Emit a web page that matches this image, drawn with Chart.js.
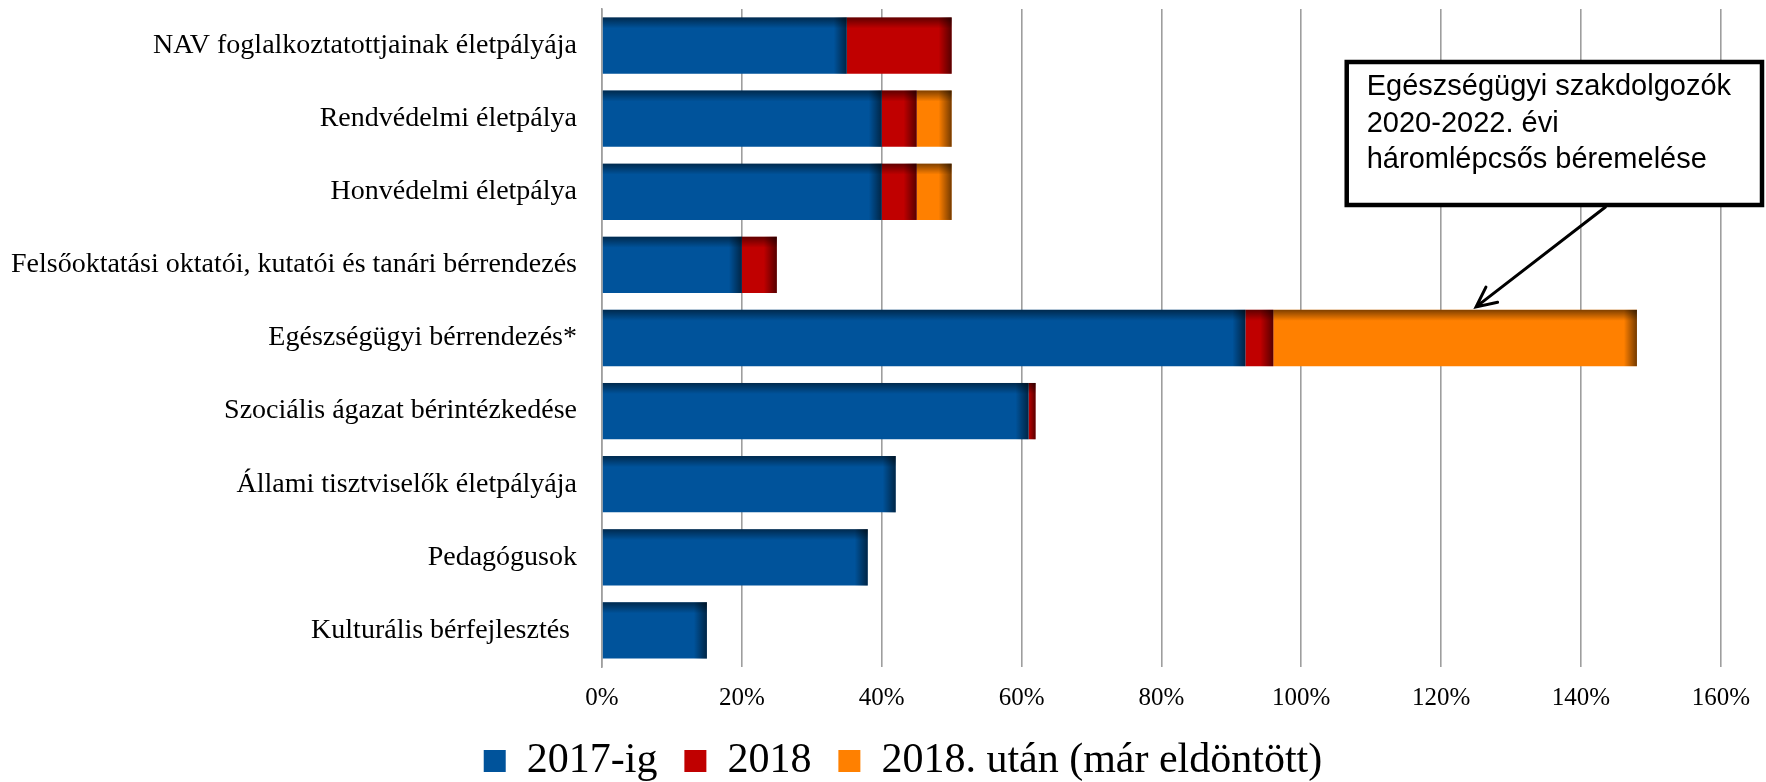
<!DOCTYPE html>
<html>
<head>
<meta charset="utf-8">
<script src="https://cdn.jsdelivr.net/npm/chart.js@4.4.1/dist/chart.umd.min.js"></script>
<style>
  html, body { margin: 0; padding: 0; background: #fff; }
  #wrap { width: 1766px; height: 782px; }
</style>
</head>
<body>
<div id="wrap"><canvas id="chart" width="1766" height="782"></canvas></div>
<script>
const categories = [
  'NAV foglalkoztatottjainak életpályája',
  'Rendvédelmi életpálya',
  'Honvédelmi életpálya',
  'Felsőoktatási oktatói, kutatói és tanári bérrendezés',
  'Egészségügyi bérrendezés*',
  'Szociális ágazat bérintézkedése',
  'Állami tisztviselők életpályája',
  'Pedagógusok',
  'Kulturális bérfejlesztés '
]
const seriesNames = ['2017-ig', '2018', '2018. után (már eldöntött)']
const upTo2017 = [35, 40, 40, 20, 92, 61, 42, 38, 15]
const in2018 = [15, 5, 5, 5, 4, 1, 0, 0, 0]
const after2018 = [0, 5, 5, 0, 52, 0, 0, 0, 0]
const xMin = 0
const xMax = 160
const xStep = 20
const noteLines = ['Egészségügyi szakdolgozók', '2020-2022. évi', 'háromlépcsős béremelése']
const noteCategory = 4
const noteArrowTip = 125
const noteArrowStart = 143.5
const noteBoxLeft = 106.5

const colors = ['#00539B', '#C00000', '#FF8000']
const gridGrey = '#9E9E9E'
const serif = '"Liberation Serif", "Times New Roman", serif'

// darker top and right edges, like the bevelled bars of the original
const barShade = {
  id: 'barShade',
  afterDatasetsDraw (chart) {
    const ctx = chart.ctx
    chart.data.datasets.forEach((ds, i) => {
      chart.getDatasetMeta(i).data.forEach(bar => {
        const { x, y, base, height } = bar.getProps(['x', 'y', 'base', 'height'], true)
        const left = Math.min(x, base)
        const right = Math.max(x, base)
        if (right - left < 0.5) return
        const top = y - height / 2
        ctx.save()
        let g = ctx.createLinearGradient(0, top, 0, top + 11)
        g.addColorStop(0, 'rgba(0,0,0,0.5)')
        g.addColorStop(1, 'rgba(0,0,0,0)')
        ctx.fillStyle = g
        ctx.fillRect(left, top, right - left, 11)
        const w = Math.min(13, right - left)
        g = ctx.createLinearGradient(right - w, 0, right, 0)
        g.addColorStop(0, 'rgba(0,0,0,0)')
        g.addColorStop(1, 'rgba(0,0,0,0.55)')
        ctx.fillStyle = g
        ctx.fillRect(right - w, top, w, height)
        ctx.restore()
      })
    })
  }
}

const note = {
  id: 'note',
  afterLayout (chart) {
    // legend sits a little right of the canvas centre in the original
    chart.legend.left += 37
    chart.legend.right += 37
  },
  afterDraw (chart) {
    const { ctx, chartArea, scales: { x } } = chart
    const bar = chart.getDatasetMeta(2).data[noteCategory]
    const tipX = x.getPixelForValue(noteArrowTip)
    const tipY = bar.y - bar.height / 2 - 3
    const left = x.getPixelForValue(noteBoxLeft)
    const right = chart.width - 4
    const top = chartArea.top + 53
    const bottom = top + 143
    ctx.save()
    ctx.fillStyle = '#fff'
    ctx.fillRect(left, top, right - left, bottom - top)
    ctx.lineWidth = 4.5
    ctx.strokeStyle = '#000'
    ctx.strokeRect(left, top, right - left, bottom - top)
    ctx.fillStyle = '#000'
    ctx.font = '29px "Liberation Sans", Arial, sans-serif'
    ctx.textBaseline = 'alphabetic'
    noteLines.forEach((line, i) => {
      ctx.fillText(line, left + 20, top + 33 + i * 36.5)
    })
    // arrow
    const sx = x.getPixelForValue(noteArrowStart)
    const sy = bottom + 2
    ctx.lineWidth = 3
    ctx.lineCap = 'round'
    ctx.beginPath()
    ctx.moveTo(sx, sy)
    ctx.lineTo(tipX, tipY)
    const ang = Math.atan2(tipY - sy, tipX - sx)
    const len = 22
    ctx.moveTo(tipX - len * Math.cos(ang - 0.45), tipY - len * Math.sin(ang - 0.45))
    ctx.lineTo(tipX, tipY)
    ctx.lineTo(tipX - len * Math.cos(ang + 0.45), tipY - len * Math.sin(ang + 0.45))
    ctx.stroke()
    ctx.restore()
  }
}

new Chart(document.getElementById('chart'), {
  type: 'bar',
  data: {
    labels: categories,
    datasets: [
      { label: seriesNames[0], data: upTo2017, backgroundColor: colors[0] },
      { label: seriesNames[1], data: in2018, backgroundColor: colors[1] },
      { label: seriesNames[2], data: after2018, backgroundColor: colors[2] }
    ]
  },
  options: {
    indexAxis: 'y',
    responsive: false,
    animation: false,
    layout: { padding: { top: 9, right: 34, left: 0, bottom: -10 } },
    datasets: {
      bar: { barPercentage: 0.77, categoryPercentage: 1, borderWidth: 0 }
    },
    scales: {
      x: {
        stacked: true,
        min: xMin,
        max: xMax,
        ticks: {
          stepSize: xStep,
          padding: 16,
          color: '#000',
          font: { family: serif, size: 25 },
          callback: v => v + '%'
        },
        grid: { color: gridGrey, lineWidth: 1.6, drawTicks: false },
        border: { display: false },
        afterFit: s => { s.height = 46 }
      },
      y: {
        stacked: true,
        ticks: {
          padding: 0,
          color: '#000',
          font: { family: serif, size: 28, lineHeight: 0.6 }
        },
        grid: {
          display: true,
          drawOnChartArea: false,
          drawTicks: true,
          tickLength: 25,
          tickColor: 'rgba(0,0,0,0)'
        },
        border: { display: true, color: gridGrey, width: 1.6 },
        afterFit: s => { s.width = 602 }
      }
    },
    plugins: {
      legend: {
        position: 'bottom',
        labels: {
          color: '#000',
          font: { family: serif, size: 42 },
          boxWidth: 22,
          boxHeight: 22,
          padding: 27
        }
      },
      tooltip: { enabled: false }
    }
  },
  plugins: [barShade, note]
})
</script>
</body>
</html>
